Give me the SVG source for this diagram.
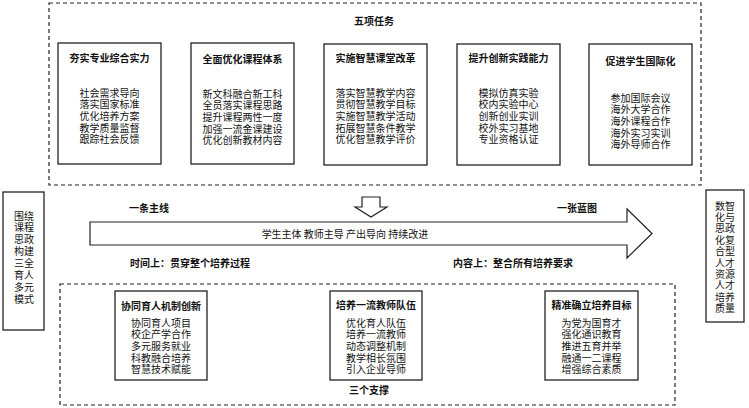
<svg xmlns="http://www.w3.org/2000/svg" width="749" height="408" viewBox="0 0 749 408">
<style>
text{font-family:"Noto Sans CJK SC","Liberation Sans",sans-serif;font-size:10px;fill:#111;text-anchor:middle;dominant-baseline:central}
.b{font-weight:bold}
.s{text-anchor:start}
.box{fill:#fff;stroke:#222;stroke-width:1.3}
.dash{fill:none;stroke:#222;stroke-width:1.2;stroke-dasharray:4 3}
.arr{fill:#fff;stroke:#222;stroke-width:1.2}
</style>
<rect width="749" height="408" fill="#fff"/>
<g id="tasks-frame">
<rect class="dash" x="49" y="3" width="652" height="182"/>
<text class="b" x="374" y="20">五项任务</text>
</g>
<g id="task1">
<rect class="box" x="58" y="43" width="103" height="121"/>
<text class="b" x="109.5" y="57">夯实专业综合实力</text>
<text x="109.5" y="92">社会需求导向</text>
<text x="109.5" y="103.7">落实国家标准</text>
<text x="109.5" y="115.4">优化培养方案</text>
<text x="109.5" y="127.1">教学质量监督</text>
<text x="109.5" y="138.8">跟踪社会反馈</text>
</g>
<g id="task2">
<rect class="box" x="191" y="43" width="103" height="121"/>
<text class="b" x="242.5" y="58">全面优化课程体系</text>
<text x="242.5" y="93">新文科融合新工科</text>
<text x="242.5" y="104.7">全员落实课程思路</text>
<text x="242.5" y="116.4">提升课程两性一度</text>
<text x="242.5" y="128.1">加强一流金课建设</text>
<text x="242.5" y="139.8">优化创新教材内容</text>
</g>
<g id="task3">
<rect class="box" x="324" y="44" width="103" height="121"/>
<text class="b" x="375.5" y="57">实施智慧课堂改革</text>
<text x="375.5" y="92">落实智慧教学内容</text>
<text x="375.5" y="103.7">贯彻智慧教学目标</text>
<text x="375.5" y="115.4">实施智慧教学活动</text>
<text x="375.5" y="127.1">拓展智慧条件教学</text>
<text x="375.5" y="138.8">优化智慧教学评价</text>
</g>
<g id="task4">
<rect class="box" x="457" y="44" width="103" height="121"/>
<text class="b" x="508.5" y="57">提升创新实践能力</text>
<text x="508.5" y="92">模拟仿真实验</text>
<text x="508.5" y="103.7">校内实验中心</text>
<text x="508.5" y="115.4">创新创业实训</text>
<text x="508.5" y="127.1">校外实习基地</text>
<text x="508.5" y="138.8">专业资格认证</text>
</g>
<g id="task5">
<rect class="box" x="589" y="44" width="103" height="121"/>
<text class="b" x="640.5" y="60">促进学生国际化</text>
<text x="640.5" y="97">参加国际会议</text>
<text x="640.5" y="108.7">海外大学合作</text>
<text x="640.5" y="120.4">海外课程合作</text>
<text x="640.5" y="132.1">海外实习实训</text>
<text x="640.5" y="143.8">海外导师合作</text>
</g>
<g id="left-box">
<rect class="box" x="3" y="192" width="41" height="138"/>
<text x="24" y="215">围绕</text>
<text x="24" y="226.9">课程</text>
<text x="24" y="238.8">思政</text>
<text x="24" y="250.7">构建</text>
<text x="24" y="262.6">三全</text>
<text x="24" y="274.5">育人</text>
<text x="24" y="286.4">多元</text>
<text x="24" y="298.3">模式</text>
</g>
<g id="right-box">
<rect class="box" x="706" y="190" width="38" height="132"/>
<text x="725" y="205">数智</text>
<text x="725" y="216.4">化与</text>
<text x="725" y="227.8">思政</text>
<text x="725" y="239.2">化复</text>
<text x="725" y="250.6">合型</text>
<text x="725" y="262">人才</text>
<text x="725" y="273.4">资源</text>
<text x="725" y="284.8">人才</text>
<text x="725" y="296.2">培养</text>
<text x="725" y="307.6">质量</text>
</g>
<g id="connectors">
<path class="arr" d="M362 197 H380 V207 H387 L371 217 L355 207 H362 Z"/>
<path class="arr" d="M90 222 H627 V209 L652 233.5 L627 258 V245 H90 Z"/>
</g>
<g id="mainline">
<text class="b" x="149" y="207">一条主线</text>
<text class="b" x="577" y="207">一张蓝图</text>
<text x="345" y="233.5">学生主体 教师主导 产出导向 持续改进</text>
<text class="b s" x="130" y="262">时间上：贯穿整个培养过程</text>
<text class="b s" x="453" y="262">内容上：整合所有培养要求</text>
</g>
<g id="support-frame">
<rect class="dash" x="60" y="284" width="615" height="121"/>
<text class="b" x="369" y="389">三个支撑</text>
</g>
<g id="support1">
<rect class="box" x="115" y="291" width="92" height="89"/>
<text class="b" x="161" y="305">协同育人机制创新</text>
<text x="161" y="322">协同育人项目</text>
<text x="161" y="333.7">校企产学合作</text>
<text x="161" y="345.4">多元服务就业</text>
<text x="161" y="357.1">科教融合培养</text>
<text x="161" y="368.8">智慧技术赋能</text>
</g>
<g id="support2">
<rect class="box" x="330" y="291" width="92" height="89"/>
<text class="b" x="376" y="304">培养一流教师队伍</text>
<text x="376" y="322">优化育人队伍</text>
<text x="376" y="333.7">培养一流教师</text>
<text x="376" y="345.4">动态调整机制</text>
<text x="376" y="357.1">教学相长氛围</text>
<text x="376" y="368.8">引入企业导师</text>
</g>
<g id="support3">
<rect class="box" x="545" y="291" width="93" height="89"/>
<text class="b" x="591.5" y="304">精准确立培养目标</text>
<text x="591.5" y="322">为党为国育才</text>
<text x="591.5" y="333.7">强化通识教育</text>
<text x="591.5" y="345.4">推进五育并举</text>
<text x="591.5" y="357.1">融通一二课程</text>
<text x="591.5" y="368.8">增强综合素质</text>
</g>
</svg>
